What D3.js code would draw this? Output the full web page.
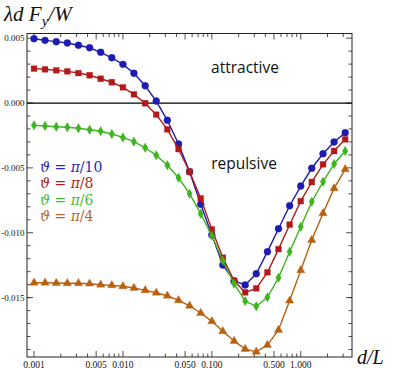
<!DOCTYPE html>
<html>
<head>
<meta charset="utf-8">
<script src="https://cdn.jsdelivr.net/npm/d3@7"></script>
<style>
  body { margin: 0; background: #fff; }
  svg text { fill: #111; }
</style>
</head>
<body>
<div id="chart"></div>
<script>
// separation ratio d/L, one point per eighth of a decade
var ratios = [0.001, 0.00133, 0.00178, 0.00237, 0.00316, 0.00422, 0.00562, 0.0075,
    0.01, 0.0133, 0.0178, 0.0237, 0.0316, 0.0422, 0.0562, 0.075,
    0.1, 0.133, 0.178, 0.237, 0.316, 0.422, 0.562, 0.75,
    1, 1.33, 1.78, 2.37, 3.16];

// lambda d F_y / W for each opening angle
var thetaTen = [0.00496, 0.00483, 0.00473, 0.00463, 0.00445, 0.00426, 0.00391, 0.00349,
    0.00298, 0.00229, 0.00133, 0.00015, -0.00133, -0.00316, -0.00530, -0.00781,
    -0.01018, -0.01249, -0.01372, -0.01403, -0.01316, -0.01146, -0.00969, -0.00792,
    -0.00640, -0.00503, -0.00391, -0.00301, -0.00229];
var thetaEight = [0.00265, 0.00260, 0.00252, 0.00244, 0.00231, 0.00214, 0.00187, 0.00160,
    0.00121, 0.00067, -0.00002, -0.00090, -0.00203, -0.00355, -0.00530, -0.00735,
    -0.00974, -0.01193, -0.01370, -0.01460, -0.01429, -0.01305, -0.01126, -0.00938,
    -0.00756, -0.00609, -0.00473, -0.00370, -0.00280];
var thetaSix = [-0.00172, -0.00177, -0.00183, -0.00187, -0.00195, -0.00206, -0.00218, -0.00239,
    -0.00265, -0.00298, -0.00345, -0.00403, -0.00480, -0.00576, -0.00699, -0.00854,
    -0.01023, -0.01216, -0.01393, -0.01527, -0.01567, -0.01498, -0.01347, -0.01146,
    -0.00954, -0.00761, -0.00607, -0.00470, -0.00370];
var thetaFour = [-0.01386, -0.01386, -0.01388, -0.01390, -0.01390, -0.01393, -0.01401, -0.01406,
    -0.01413, -0.01426, -0.01444, -0.01463, -0.01486, -0.01521, -0.01563, -0.01619,
    -0.01683, -0.01760, -0.01835, -0.01897, -0.01918, -0.01866, -0.01750, -0.01524,
    -0.01290, -0.01056, -0.00850, -0.00658, -0.00511];

var seriesNames = ["π/10", "π/8", "π/6", "π/4"];
var seriesValues = [thetaTen, thetaEight, thetaSix, thetaFour];

var xMajor = [0.001, 0.005, 0.01, 0.05, 0.1, 0.5, 1];
var xMajorLabels = ["0.001", "0.005", "0.010", "0.050", "0.100", "0.500", "1.000"];
var yMajor = [0.005, 0, -0.005, -0.010, -0.015];
var yMajorLabels = ["0.005", "0.000", "-0.005", "-0.010", "-0.015"];

var colors = ["#1c1cb0", "#b21a1a", "#3cb41e", "#b8600f"];
var legendColors = ["#2a2ab8", "#a82424", "#4cba2c", "#b0682c"];
var shapes = [d3.symbolCircle, d3.symbolSquare, d3.symbolDiamond, d3.symbolTriangle];
var shapeSizes = [38, 34, 26, 30];

var W = 400, H = 370;
var frame = {left: 27, right: 352, top: 33.5, bottom: 357};

var x = d3.scaleLog().domain([0.000834, 3.77]).range([frame.left, frame.right]);
var y = d3.scaleLinear().domain([-0.01958, 0.00536]).range([frame.bottom, frame.top]);

var svg = d3.select("#chart").append("svg")
    .attr("width", W)
    .attr("height", H);

svg.append("clipPath").attr("id", "plot-clip")
    .append("rect")
    .attr("x", frame.left).attr("y", frame.top)
    .attr("width", frame.right - frame.left)
    .attr("height", frame.bottom - frame.top);

// minor ticks: every integer multiple in each decade, every 0.001 on y
var xMinor = [];
[0.001, 0.01, 0.1, 1].forEach(function (dec) {
    for (var m = 2; m <= 9; m++) {
        if (m !== 5 && dec * m < x.domain()[1]) xMinor.push(dec * m);
    }
});
var yMinor = d3.range(-19, 6).map(function (i) { return i / 1000; })
    .filter(function (v) { return Math.abs(v % 0.005) > 1e-9; });

var tickG = svg.append("g").attr("stroke", "#222").attr("stroke-width", 0.8);

function xTicks(vals, len) {
    vals.forEach(function (v) {
        var px = x(v);
        tickG.append("line").attr("x1", px).attr("x2", px)
            .attr("y1", frame.bottom).attr("y2", frame.bottom - len);
        tickG.append("line").attr("x1", px).attr("x2", px)
            .attr("y1", frame.top).attr("y2", frame.top + len);
    });
}
function yTicks(vals, len) {
    vals.forEach(function (v) {
        var py = y(v);
        tickG.append("line").attr("y1", py).attr("y2", py)
            .attr("x1", frame.left).attr("x2", frame.left + len);
        tickG.append("line").attr("y1", py).attr("y2", py)
            .attr("x1", frame.right).attr("x2", frame.right - len);
    });
}
xTicks(xMajor, 6);
xTicks(xMinor, 3.5);
yTicks(yMajor, 6);
yTicks(yMinor, 3.5);

// tick labels
svg.append("g").selectAll("text")
    .data(xMajor)
    .join("text")
    .attr("x", function (d) { return x(d); })
    .attr("y", 368)
    .attr("text-anchor", "middle")
    .style("font-family", "'Liberation Serif', serif")
    .style("font-size", "9.5px")
    .text(function (d, i) { return xMajorLabels[i]; });

svg.append("g").selectAll("text")
    .data(yMajor)
    .join("text")
    .attr("x", 24.5)
    .attr("y", function (d) { return y(d) + 3.2; })
    .attr("text-anchor", "end")
    .style("font-family", "'Liberation Serif', serif")
    .style("font-size", "9px")
    .text(function (d, i) { return yMajorLabels[i]; });

// zero line
svg.append("line")
    .attr("x1", frame.left).attr("x2", frame.right)
    .attr("y1", y(0)).attr("y2", y(0))
    .attr("stroke", "#000")
    .attr("stroke-width", 1.3);

var plot = svg.append("g").attr("clip-path", "url(#plot-clip)");

var line = d3.line()
    .x(function (d, i) { return x(ratios[i]); })
    .y(function (d) { return y(d); });

seriesValues.forEach(function (vals, s) {
    plot.append("path")
        .attr("d", line(vals))
        .attr("fill", "none")
        .attr("stroke", colors[s])
        .attr("stroke-width", 1.4);

    plot.append("g").selectAll("path")
        .data(vals)
        .join("path")
        .attr("transform", function (d, i) { return "translate(" + x(ratios[i]) + "," + y(d) + ")"; })
        .attr("d", d3.symbol().type(shapes[s]).size(shapeSizes[s]))
        .attr("fill", colors[s])
        .attr("stroke", colors[s])
        .attr("stroke-opacity", 0.35)
        .attr("stroke-width", 1);
});

// frame
svg.append("rect")
    .attr("x", frame.left).attr("y", frame.top)
    .attr("width", frame.right - frame.left)
    .attr("height", frame.bottom - frame.top)
    .attr("fill", "none")
    .attr("stroke", "#222")
    .attr("stroke-width", 1);

// axis titles
var yTitle = svg.append("text")
    .attr("x", 4).attr("y", 21)
    .style("font-family", "'Liberation Serif', 'DejaVu Serif', serif")
    .style("font-style", "italic")
    .style("font-size", "21px");
yTitle.append("tspan").text("λd F");
yTitle.append("tspan").attr("dy", 5).style("font-size", "15px").text("y");
yTitle.append("tspan").attr("dy", -5).text("/W");

svg.append("text")
    .attr("x", 357).attr("y", 364)
    .style("font-family", "'Liberation Serif', serif")
    .style("font-style", "italic")
    .style("font-size", "20px")
    .text("d/L");

// region notes
svg.append("text")
    .attr("x", 245).attr("y", 73)
    .attr("text-anchor", "middle")
    .style("font-family", "'Open Sans', sans-serif")
    .style("font-size", "15.5px")
    .text("attractive");

svg.append("text")
    .attr("x", 244).attr("y", 169)
    .attr("text-anchor", "middle")
    .style("font-family", "'Open Sans', sans-serif")
    .style("font-size", "15.5px")
    .text("repulsive");

// legend
seriesNames.forEach(function (name, s) {
    var t = svg.append("text")
        .attr("x", 40).attr("y", 172 + s * 16.3)
        .style("font-family", "'DejaVu Serif', serif")
        .style("font-size", "14px")
        .style("fill", legendColors[s]);
    t.append("tspan").style("font-style", "italic").text("ϑ");
    t.append("tspan").text(" = ");
    t.append("tspan").style("font-style", "italic").text("π");
    t.append("tspan").text(name.slice(1));
});
</script>
</body>
</html>
